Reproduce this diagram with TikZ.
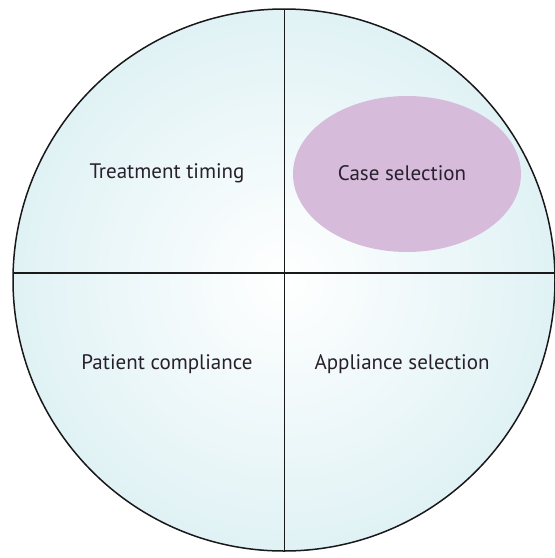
\documentclass[tikz,border=0pt]{standalone}
\usepackage{fontspec}
\setmainfont{PT Sans}
\definecolor{discfill}{RGB}{224,242,245}
\definecolor{ovalfill}{RGB}{214,188,218}
\definecolor{inkcol}{RGB}{40,32,44}
\begin{document}
\begin{tikzpicture}[x=1pt,y=-1pt,
  lbl/.style={font=\fontsize{21}{24}\selectfont, text=inkcol},
  divider/.style={draw=black!90, line width=1.5pt}]
\useasboundingbox (0,0) rectangle (555,558);
\fill[white] (0,0) rectangle (555,558);
\shade[inner color=white, outer color=discfill] (284,280) circle[radius=271];
\fill[ovalfill] (407,174) ellipse[x radius=114, y radius=78];
\coordinate (top) at (284.5,9);
\coordinate (bot) at (284.5,551);
\coordinate (lft) at (13,273);
\coordinate (rgt) at (555,273);
\draw[divider] (top) -- (bot);
\draw[divider] (lft) -- (rgt);
\draw[black!90, line width=1.5pt] (284,280) circle[radius=271];
\node[lbl] (tt) at (167,173) {Treatment timing};
\node[lbl] (cs) at (402,173) {Case selection};
\node[lbl] (pc) at (167,364) {Patient compliance};
\node[lbl] (as) at (402,364) {Appliance selection};
\end{tikzpicture}
\end{document}
